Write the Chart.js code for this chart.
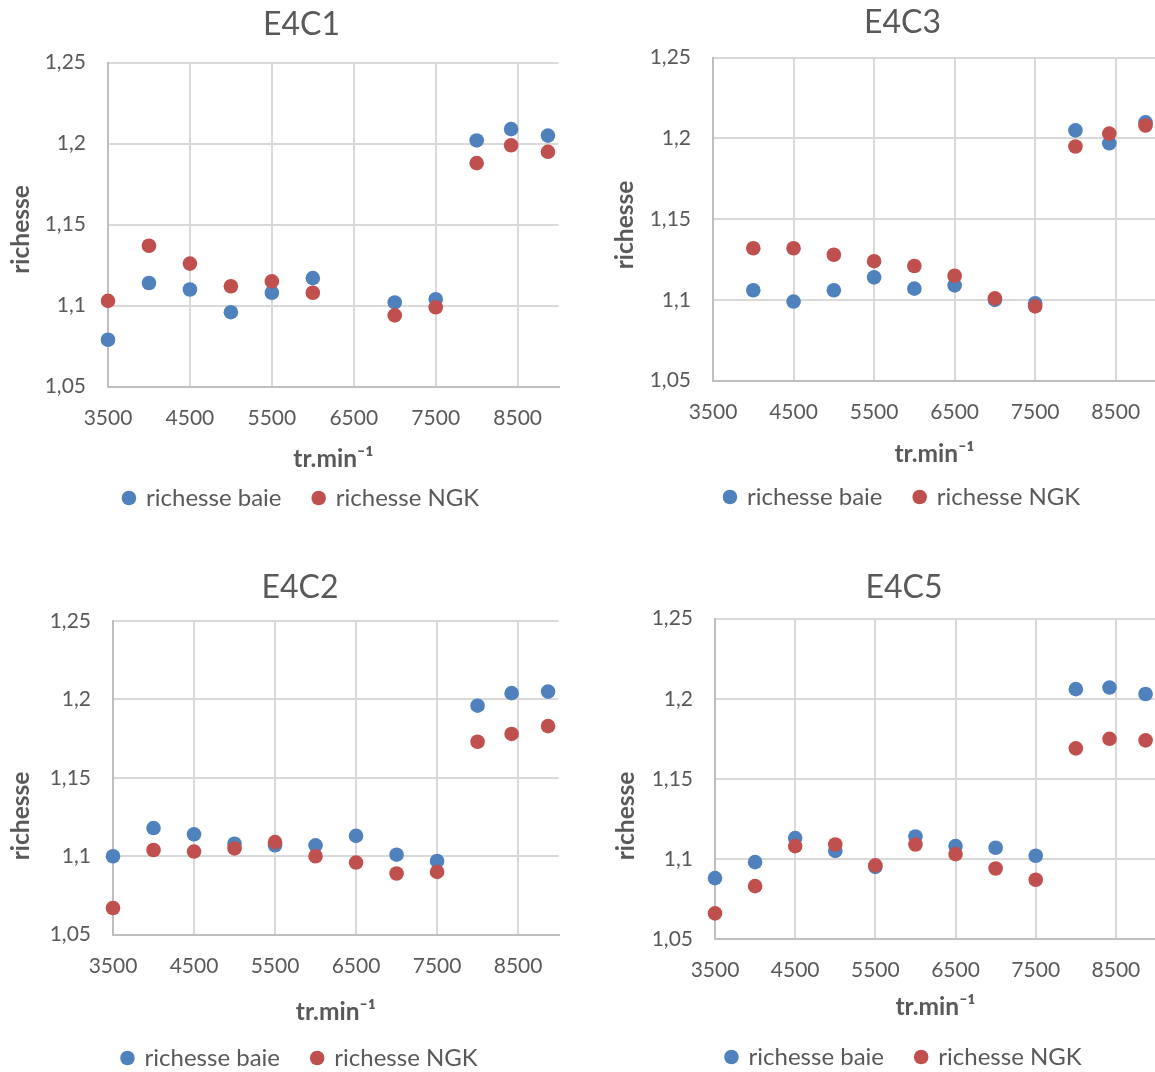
<!DOCTYPE html>
<html>
<head>
<meta charset="utf-8">
<script src="https://cdn.jsdelivr.net/npm/chart.js@4.4.1/dist/chart.umd.min.js"></script>
<style>
html,body{margin:0;padding:0;background:#fff;overflow:hidden;width:1155px;height:1072px;}
canvas{position:absolute;}
</style>
</head>
<body>
<canvas id="c1"></canvas>
<canvas id="c2"></canvas>
<canvas id="c3"></canvas>
<canvas id="c4"></canvas>
<script>
// régime (tr/min) commun aux quatre essais, null = pas de mesure
const rpm = [3500, 4000, 4500, 5000, 5500, 6000, 6500, 7000, 7500, 8000, 8420, 8870];
const xTicks = [3500, 4500, 5500, 6500, 7500, 8500];
const yTicks = [1.05, 1.1, 1.15, 1.2, 1.25];
const seriesNames = ['richesse baie', 'richesse NGK'];

const e4c1Baie = [1.079, 1.114, 1.110, 1.096, 1.108, 1.117, null, 1.102, 1.104, 1.202, 1.209, 1.205];
const e4c1Ngk  = [1.103, 1.137, 1.126, 1.112, 1.115, 1.108, null, 1.094, 1.099, 1.188, 1.199, 1.195];

const e4c3Baie = [null, 1.106, 1.099, 1.106, 1.114, 1.107, 1.109, 1.100, 1.098, 1.205, 1.197, 1.210];
const e4c3Ngk  = [null, 1.132, 1.132, 1.128, 1.124, 1.121, 1.115, 1.101, 1.096, 1.195, 1.203, 1.208];

const e4c2Baie = [1.100, 1.118, 1.114, 1.108, 1.107, 1.107, 1.113, 1.101, 1.097, 1.196, 1.204, 1.205];
const e4c2Ngk  = [1.067, 1.104, 1.103, 1.105, 1.109, 1.100, 1.096, 1.089, 1.090, 1.173, 1.178, 1.183];

const e4c5Baie = [1.088, 1.098, 1.113, 1.105, 1.095, 1.114, 1.108, 1.107, 1.102, 1.206, 1.207, 1.203];
const e4c5Ngk  = [1.066, 1.083, 1.108, 1.109, 1.096, 1.109, 1.103, 1.094, 1.087, 1.169, 1.175, 1.174];

const BLUE = '#4f81bd';
const RED = '#c0504d';
const TXT = '#595959';
const TICK_FS = 21;
const AXIS_FS = 24.5;
const LEG_FS = 24;
const LEG_PAD = 32;

Chart.defaults.font.family = "Lato, 'Noto Sans', sans-serif";
Chart.defaults.color = TXT;

function points(vals) {
    const out = [];
    vals.forEach((v, i) => { if (v !== null) out.push({x: rpm[i], y: v}); });
    return out;
}

// titre vertical "richesse" : dans Excel il n'est pas centré sur la zone de tracé
const yTitlePlugin = {
    id: 'yTitle',
    afterDraw(chart, args, opts) {
        const ctx = chart.ctx;
        ctx.save();
        ctx.translate(opts.x, opts.y);
        ctx.rotate(-Math.PI / 2);
        ctx.font = 'bold ' + AXIS_FS + "px Lato, 'Noto Sans', sans-serif";
        ctx.fillStyle = TXT;
        ctx.textAlign = 'center';
        ctx.textBaseline = 'middle';
        ctx.fillText(opts.text, 0, 0);
        ctx.restore();
    }
};

function makeChart(id, title, baie, ngk, L) {
    const cv = document.getElementById(id);
    const legH = LEG_FS + LEG_PAD + 10;
    const H = Math.round(L.legendY - L.top + LEG_FS / 2 + 10);
    cv.width = L.width;
    cv.height = H;
    cv.style.left = L.left + 'px';
    cv.style.top = L.top + 'px';
    const legendTop = L.top + H - legH;
    const padTop = L.titleY - L.top - 19.2;
    const padBottom = (L.plotTop - L.top) - padTop - 38.4;
    const axisHalf = AXIS_FS * 1.2 / 2;

    new Chart(cv, {
        type: 'scatter',
        data: {
            datasets: [
                {label: seriesNames[0], data: points(baie), order: 1,
                 backgroundColor: BLUE, borderColor: BLUE, borderWidth: 0,
                 pointRadius: 7.3, pointBorderWidth: 0, clip: false},
                {label: seriesNames[1], data: points(ngk), order: 0,
                 backgroundColor: RED, borderColor: RED, borderWidth: 0,
                 pointRadius: 7.3, pointBorderWidth: 0, clip: false}
            ]
        },
        plugins: [yTitlePlugin],
        options: {
            responsive: false,
            animation: false,
            layout: {padding: 0},
            plugins: {
                tooltip: {enabled: false},
                yTitle: {text: 'richesse', x: 21.3, y: L.yTitleY - L.top},
                title: {
                    display: true, text: title, color: TXT,
                    font: {size: 32, weight: 'normal'},
                    padding: {top: padTop, bottom: padBottom}
                },
                legend: {
                    position: 'bottom',
                    labels: {
                        usePointStyle: true, boxWidth: 10.3, boxHeight: 10.3,
                        padding: LEG_PAD, color: TXT, font: {size: LEG_FS},
                        sort: (a, b) => a.datasetIndex - b.datasetIndex
                    }
                }
            },
            scales: {
                x: {
                    type: 'linear', position: 'bottom', min: 3500, max: 9000,
                    afterBuildTicks: s => { s.ticks = xTicks.map(v => ({value: v})); },
                    afterFit: s => { s.height = legendTop - L.plotBottom; },
                    grid: {color: '#d9d9d9', lineWidth: 2, drawTicks: false},
                    border: {color: '#bfbfbf', width: 2},
                    ticks: {font: {size: TICK_FS}, color: TXT, maxRotation: 0,
                            padding: L.tickY - L.plotBottom - TICK_FS * 0.6,
                            callback: v => String(v)},
                    title: {
                        display: true, text: 'tr.min\u207B\u00B9', color: TXT,
                        font: {size: AXIS_FS, weight: 'bold'},
                        padding: {top: 0, bottom: legendTop - axisHalf - L.xTitleY}
                    }
                },
                y: {
                    type: 'linear', position: 'left', min: 1.05, max: 1.25,
                    afterBuildTicks: s => { s.ticks = yTicks.map(v => ({value: v})); },
                    afterFit: s => { s.width = L.yAxisW; },
                    grid: {color: '#d9d9d9', lineWidth: 2, drawTicks: false},
                    border: {color: '#bfbfbf', width: 2},
                    ticks: {font: {size: TICK_FS}, color: TXT, padding: 22,
                            callback: v => String(v).replace('.', ',')}
                },
                pad: {
                    type: 'linear', position: 'right', display: true,
                    grid: {display: false}, border: {display: false},
                    ticks: {display: false},
                    afterFit: s => { s.width = L.rightW; }
                }
            }
        }
    });
}

makeChart('c1', 'E4C1', e4c1Baie, e4c1Ngk,
    {left: 0, top: 0, width: 603, yAxisW: 108, rightW: 44.4, titleY: 25, plotTop: 62.7,
     plotBottom: 386.7, tickY: 418, xTitleY: 459, legendY: 498, yTitleY: 229.5});
makeChart('c2', 'E4C3', e4c3Baie, e4c3Ngk,
    {left: 604, top: 0, width: 597, yAxisW: 109, rightW: 45, titleY: 23, plotTop: 57.7,
     plotBottom: 380.7, tickY: 412, xTitleY: 454, legendY: 497, yTitleY: 225});
makeChart('c3', 'E4C2', e4c2Baie, e4c2Ngk,
    {left: 0, top: 560, width: 600, yAxisW: 113, rightW: 41.4, titleY: 588, plotTop: 621,
     plotBottom: 934.7, tickY: 966.7, xTitleY: 1012, legendY: 1058, yTitleY: 816});
makeChart('c4', 'E4C5', e4c5Baie, e4c5Ngk,
    {left: 605, top: 560, width: 598, yAxisW: 110, rightW: 47, titleY: 588, plotTop: 618.7,
     plotBottom: 939, tickY: 970, xTitleY: 1007, legendY: 1057, yTitleY: 816});
</script>
</body>
</html>
